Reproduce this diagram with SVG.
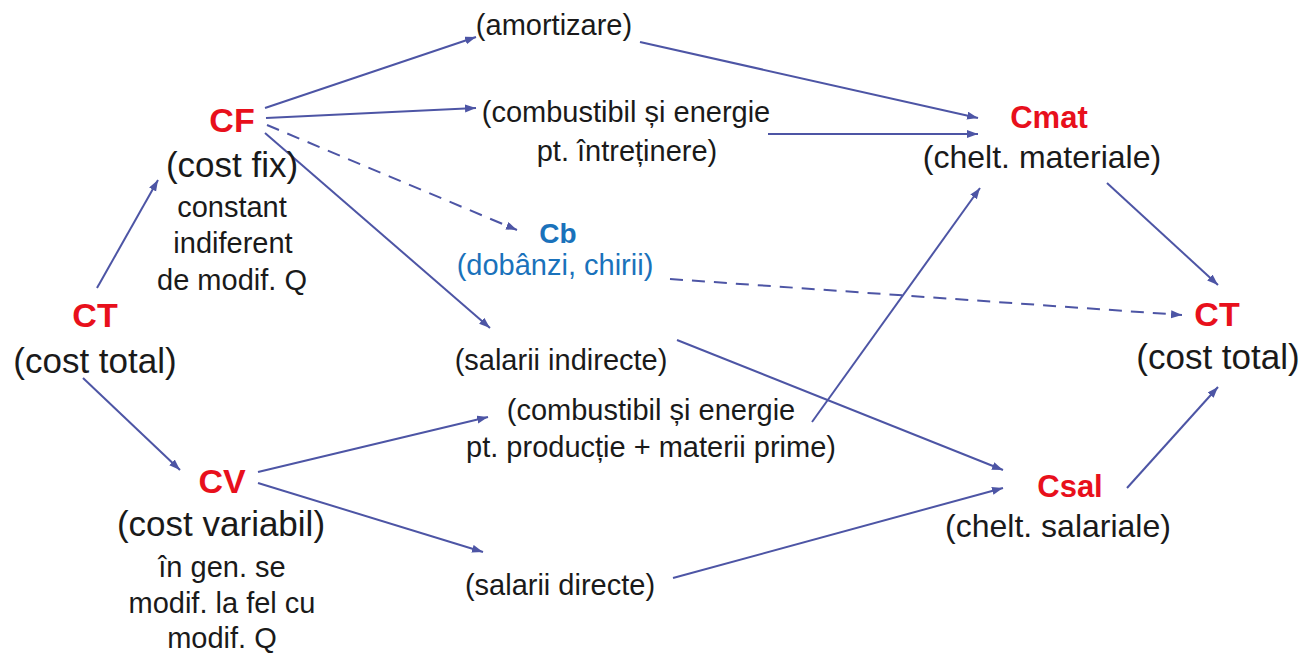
<svg xmlns="http://www.w3.org/2000/svg" width="1307" height="653" viewBox="0 0 1307 653">
<defs>
<marker id="ah" markerUnits="userSpaceOnUse" markerWidth="12" markerHeight="10" refX="11" refY="4" orient="auto">
<path d="M0,0 L11,4 L0,8 z" fill="#4d55a5"/>
</marker>
<style>
text{font-family:"Liberation Sans",Arial,sans-serif;text-anchor:middle;fill:#1a1a1a}
.big{font-size:34px;font-weight:bold;fill:#e8101c}
.mid{font-size:31px;font-weight:bold;fill:#e8101c}
.cb{font-size:28px;font-weight:bold;fill:#1a72bb}
.blue{fill:#1a72bb}
.l{font-size:35px}
.m{font-size:32px}
.s{font-size:29px}
.c{fill:none;stroke:#4d55a5;stroke-width:2;marker-end:url(#ah)}
.d{stroke-dasharray:13 9}
</style>
</defs>
<rect width="1307" height="653" fill="#ffffff"/>
<g id="connectors">
<line class="c" x1="97" y1="288" x2="158" y2="180"/>
<line class="c" x1="83" y1="378" x2="180" y2="470"/>
<line class="c" x1="265" y1="108" x2="476" y2="37"/>
<line class="c" x1="266" y1="118" x2="476" y2="108"/>
<line class="c d" x1="267" y1="125" x2="517" y2="230"/>
<line class="c" x1="265" y1="133" x2="490" y2="328"/>
<line class="c" x1="640" y1="42" x2="978" y2="118"/>
<line class="c" x1="768" y1="134" x2="978" y2="134"/>
<line class="c" x1="812" y1="422" x2="980" y2="188"/>
<line class="c" x1="1107" y1="183" x2="1218" y2="285"/>
<line class="c d" x1="670" y1="279" x2="1182" y2="315"/>
<line class="c" x1="677" y1="340" x2="1003" y2="470"/>
<line class="c" x1="258" y1="472" x2="488" y2="417"/>
<line class="c" x1="258" y1="483" x2="483" y2="552"/>
<line class="c" x1="673" y1="578" x2="1003" y2="488"/>
<line class="c" x1="1127" y1="488" x2="1218" y2="387"/>
</g>
<g id="ct-left">
<text class="big" x="95" y="327">CT</text>
<text class="l" x="95" y="373">(cost total)</text>
</g>
<g id="cf">
<text class="big" x="232" y="132">CF</text>
<text class="l" x="232" y="177">(cost fix)</text>
<text class="s" x="232" y="217">constant</text>
<text class="s" x="233" y="253">indiferent</text>
<text class="s" x="232" y="290">de modif. Q</text>
</g>
<g id="cv">
<text class="big" x="222" y="493">CV</text>
<text class="l" x="221" y="536">(cost variabil)</text>
<text class="s" x="222" y="577">în gen. se</text>
<text class="s" x="222" y="613">modif. la fel cu</text>
<text class="s" x="222" y="648">modif. Q</text>
</g>
<g id="amortizare">
<text class="s" x="554" y="35">(amortizare)</text>
</g>
<g id="comb-intretinere">
<text class="s" x="626" y="122">(combustibil și energie</text>
<text class="s" x="627" y="161">pt. întreținere)</text>
</g>
<g id="cb">
<text class="cb" x="558" y="243">Cb</text>
<text class="s blue" x="555" y="275">(dobânzi, chirii)</text>
</g>
<g id="salarii-indirecte">
<text class="s" x="561" y="370">(salarii indirecte)</text>
</g>
<g id="comb-productie">
<text class="s" x="651" y="420">(combustibil și energie</text>
<text class="s" x="651" y="457">pt. producție + materii prime)</text>
</g>
<g id="salarii-directe">
<text class="s" x="560" y="595">(salarii directe)</text>
</g>
<g id="cmat">
<text class="mid" x="1049" y="128">Cmat</text>
<text class="m" x="1042" y="168">(chelt. materiale)</text>
</g>
<g id="csal">
<text class="mid" x="1070" y="497">Csal</text>
<text class="m" x="1058" y="537">(chelt. salariale)</text>
</g>
<g id="ct-right">
<text class="big" x="1217" y="326">CT</text>
<text class="l" x="1218" y="369">(cost total)</text>
</g>
</svg>
